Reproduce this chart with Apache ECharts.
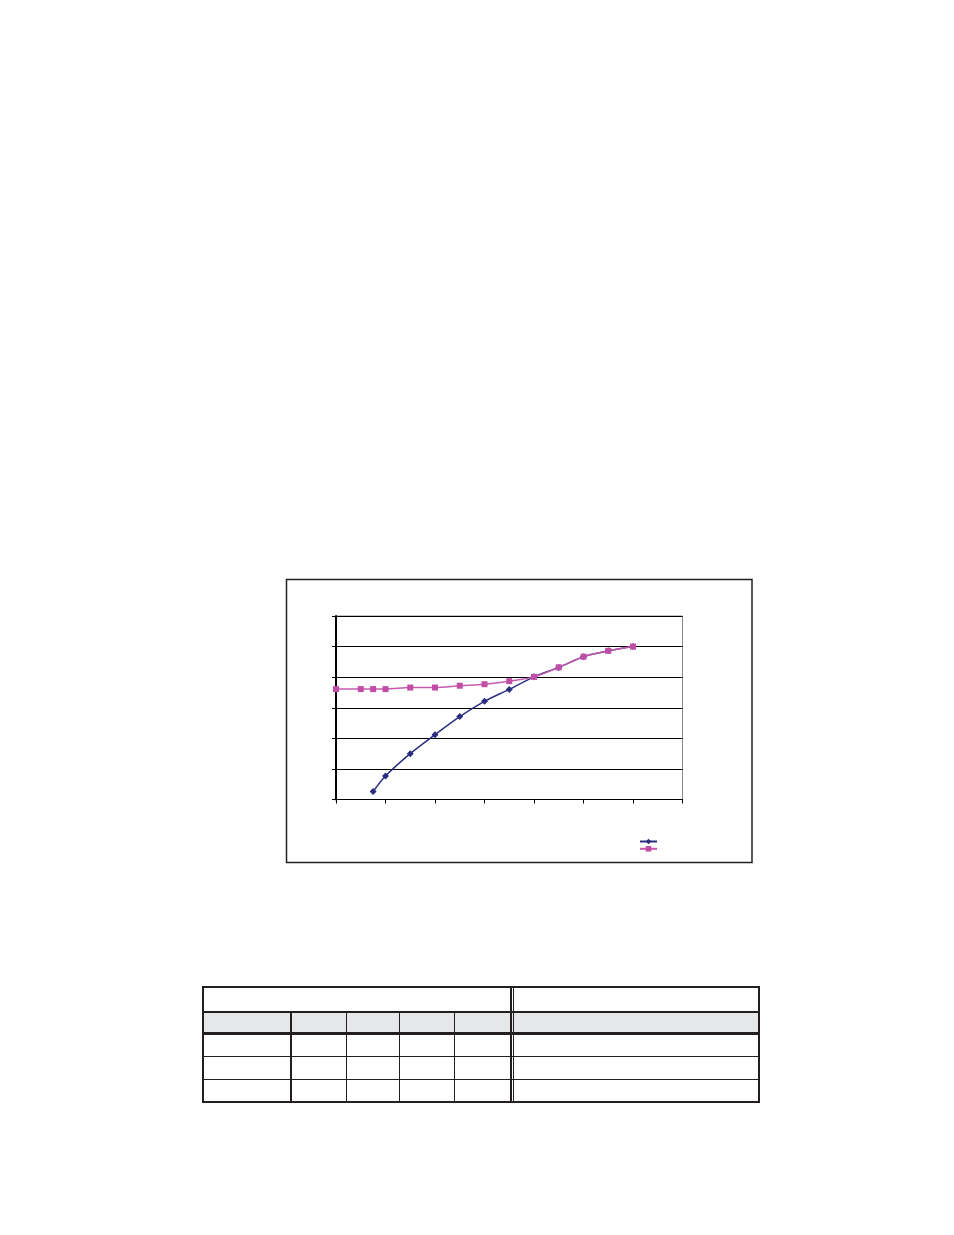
<!DOCTYPE html>
<html>
<head>
<meta charset="utf-8">
<script src="https://cdn.jsdelivr.net/npm/echarts@6/dist/echarts.min.js"></script>
<style>
html,body{margin:0;padding:0;background:#fff;}
#chart{position:absolute;left:0;top:0;width:954px;height:1235px;}
.ln{position:absolute;background:#231F20;}
.fill{position:absolute;background:#E6E7E8;}
</style>
</head>
<body>
<div id="chart"></div>
<div id="table"></div>
<script>
// x positions (shared axis units)
var xPink = [0, 0.5, 0.75, 1, 1.5, 2, 2.5, 3, 3.5, 4, 4.5, 5, 5.5, 6];
var pinkValues = [3.61, 3.61, 3.61, 3.61, 3.66, 3.66, 3.72, 3.77, 3.87, 4.01, 4.32, 4.67, 4.86, 5.0];
var xBlue = [0.75, 1, 1.5, 2, 2.5, 3, 3.5, 4, 4.5, 5, 5.5, 6];
var blueValues = [0.26, 0.77, 1.50, 2.12, 2.71, 3.21, 3.60, 4.01, 4.32, 4.67, 4.86, 5.0];
var seriesNames = ['A', 'B'];

function pairs(xs, ys){ return xs.map(function(x,i){ return [x, ys[i]]; }); }

var chart = echarts.init(document.getElementById('chart'), null, {renderer:'canvas'});
chart.setOption({
  animation: false,
  backgroundColor: '#fff',
  graphic: [{
    type: 'rect', shape: {x: 286.5, y: 579.5, width: 465.5, height: 283},
    style: {fill: 'none', stroke: '#222', lineWidth: 1.5}, z: -1
  }],
  grid: {left: 336, top: 616, width: 346.5, height: 183.5, show: true, borderColor: '#8a8a8a', borderWidth: 1, backgroundColor: 'transparent'},
  legend: {
    orient: 'vertical', left: 634, top: 833, itemWidth: 17, itemHeight: 7, itemGap: 1,
    formatter: function(){ return ''; }, textStyle: {fontSize: 1},
    data: seriesNames
  },
  xAxis: {
    type: 'value', min: 0, max: 7, interval: 1,
    axisLine: {show: true, onZero: false, lineStyle: {color: '#000', width: 1}},
    axisTick: {show: true, inside: false, length: 4, lineStyle: {color: '#000'}},
    axisLabel: {show: false},
    splitLine: {show: false}
  },
  yAxis: {
    type: 'value', min: 0, max: 6, interval: 1,
    axisLine: {show: true, onZero: false, lineStyle: {color: '#000', width: 2}},
    axisTick: {show: true, inside: false, length: 4, lineStyle: {color: '#000'}},
    axisLabel: {show: false},
    splitLine: {show: true, lineStyle: {color: '#000', width: 1}}
  },
  series: [
    {name: seriesNames[0], type: 'line', data: pairs(xBlue, blueValues), smooth: 0.3,
     symbol: 'diamond', symbolSize: 7, showAllSymbol: true,
     lineStyle: {color: '#2B2E80', width: 1.5}, itemStyle: {color: '#2B2E80'}},
    {name: seriesNames[1], type: 'line', data: pairs(xPink, pinkValues), smooth: 0.3,
     symbol: 'rect', symbolSize: 6, showAllSymbol: true,
     lineStyle: {color: '#C55AAE', width: 1.5}, itemStyle: {color: '#C24DA6'}}
  ]
});

// Table (empty cells, lines only)
var t = document.getElementById('table');
function add(cls, l, tp, w, h){ var d=document.createElement('div'); d.className=cls; d.style.left=l+'px'; d.style.top=tp+'px'; d.style.width=w+'px'; d.style.height=h+'px'; t.appendChild(d); }
add('fill', 203, 1012, 557, 21);
// outer border
add('ln', 202, 986, 558, 2);
add('ln', 202, 1101, 558, 2);
add('ln', 202, 986, 2, 117);
add('ln', 758, 986, 2, 117);
// horizontal lines
add('ln', 202, 1011, 558, 1.5);
add('ln', 202, 1032, 558, 2.5);
add('ln', 202, 1055.5, 558, 1.5);
add('ln', 202, 1078.5, 558, 1.5);
// vertical lines
[290, 345.5, 398.5, 453.5].forEach(function(x){ add('ln', x, 1011, 1.5, 91); });
add('ln', 510, 986, 2, 117);
add('ln', 513, 986, 1, 117);
</script>
</body>
</html>
